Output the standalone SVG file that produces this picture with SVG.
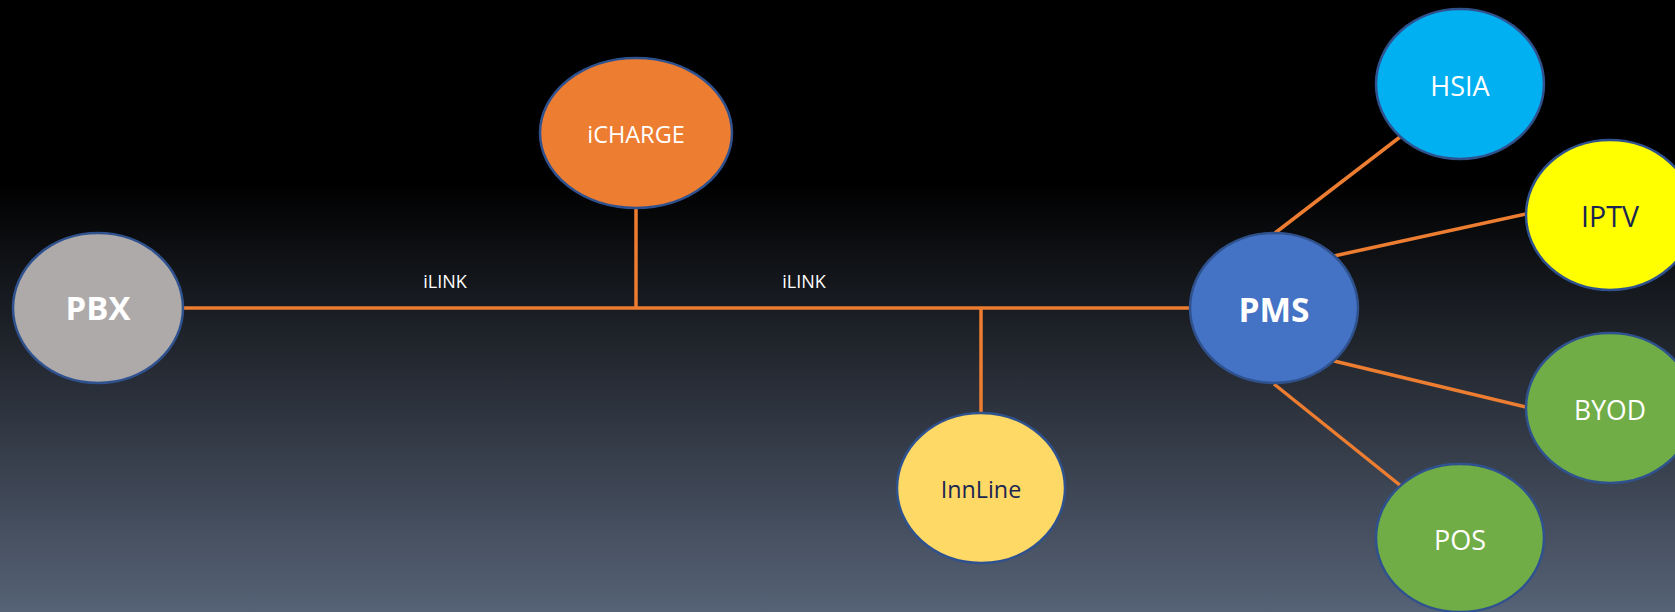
<svg xmlns="http://www.w3.org/2000/svg" width="1675" height="612" viewBox="0 0 1675 612">
<defs>
<linearGradient id="bg" x1="0" y1="0" x2="0" y2="1">
<stop offset="0" stop-color="#000000"/>
<stop offset="0.3" stop-color="#000000"/>
<stop offset="1" stop-color="#566276"/>
</linearGradient>
<style>
.node{stroke:#2F528F;stroke-width:2.5}
.conn line{stroke:#ED7D31;stroke-width:3.5}
text{font-family:"Open Sans","Noto Sans","Liberation Sans",sans-serif;text-anchor:middle}
.w{fill:#FFFFFF}
.d{fill:#1A2652}
.b{font-weight:bold}
</style>
</defs>
<rect width="1675" height="612" fill="url(#bg)"/>
<g id="connectors" class="conn">
<line x1="183" y1="308" x2="1190" y2="308"/>
<line x1="636" y1="208" x2="636" y2="308"/>
<line x1="981" y1="308" x2="981" y2="413"/>
<line x1="1275" y1="233" x2="1400" y2="137"/>
<line x1="1334" y1="256" x2="1526" y2="214"/>
<line x1="1334" y1="361" x2="1526" y2="407"/>
<line x1="1274" y1="384" x2="1401" y2="486"/>
<text class="w" x="445" y="288" font-size="18">iLINK</text>
<text class="w" x="804" y="288" font-size="18">iLINK</text>
</g>
<g id="pbx">
<ellipse class="node" cx="98" cy="308" rx="85" ry="75" fill="#AEAAAA"/>
<text class="w b" x="98" y="320" font-size="33">PBX</text>
</g>
<g id="icharge">
<ellipse class="node" cx="636" cy="133" rx="96" ry="75" fill="#ED7D31"/>
<text class="w" x="636" y="143" font-size="23.5">iCHARGE</text>
</g>
<g id="innline">
<ellipse class="node" cx="981" cy="488" rx="84" ry="75" fill="#FFD966"/>
<text class="d" x="981" y="498" font-size="23.3">InnLine</text>
</g>
<g id="pms">
<ellipse class="node" cx="1274" cy="308" rx="84" ry="75" fill="#4472C4"/>
<text class="w b" x="1274" y="322" font-size="33.5">PMS</text>
</g>
<g id="hsia">
<ellipse class="node" cx="1460" cy="84" rx="84" ry="75" fill="#00B0F0"/>
<text class="w" x="1460" y="96" font-size="27">HSIA</text>
</g>
<g id="iptv">
<ellipse class="node" cx="1610" cy="215" rx="84" ry="75" fill="#FFFF00"/>
<text class="d" x="1610" y="227" font-size="28.5">IPTV</text>
</g>
<g id="byod">
<ellipse class="node" cx="1610" cy="408" rx="84" ry="75" fill="#70AD47"/>
<text class="w" x="1610" y="420" font-size="26.5">BYOD</text>
</g>
<g id="pos">
<ellipse class="node" cx="1460" cy="538" rx="84" ry="74" fill="#70AD47"/>
<text class="w" x="1460" y="550" font-size="27">POS</text>
</g>
</svg>
